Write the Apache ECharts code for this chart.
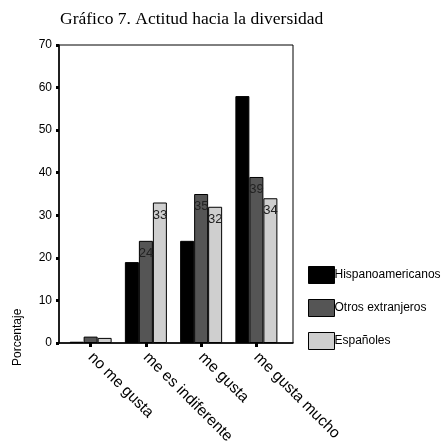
<!DOCTYPE html>
<html>
<head>
<meta charset="utf-8">
<script src="https://cdn.jsdelivr.net/npm/echarts@6/dist/echarts.min.js"></script>
<style>
  html, body { margin: 0; padding: 0; background: #fff; }
  #chart { width: 445px; height: 444px; }
</style>
</head>
<body>
<div id="chart"></div>
<script>
// datos
const categorias = ["no me gusta", "me es indiferente", "me gusta", "me gusta mucho"];
const hispanoamericanos = [0.3, 19, 24, 58];
const otrosExtranjeros = [1.5, 24, 35, 39];
const espanoles = [1.2, 33, 32, 34];
const ticksY = [0, 10, 20, 30, 40, 50, 60, 70];

const myEcharts = echarts.init(document.getElementById("chart"));

const etiqueta = {
  show: true,
  position: "insideTop",
  distance: 6,
  color: "#222",
  fontFamily: "Liberation Sans",
  fontSize: 13,
  formatter: (p) => (p.value > 5 ? String(p.value) : ""),
};

const serie = (name, data, color, label) => ({
  name: name,
  type: "bar",
  xAxisIndex: 1,
  yAxisIndex: 1,
  data: data,
  barWidth: 14,
  barGap: "0%",
  itemStyle: {
    color: color,
    borderColor: "#000",
    borderWidth: 1,
  },
  label: label ? etiqueta : { show: false },
});

const option = {
  animation: false,
  backgroundColor: "#fff",
  title: {
    text: "Gráfico 7. Actitud hacia la diversidad",
    left: 55,
    top: 5,
    textStyle: {
      fontFamily: "Liberation Serif",
      fontWeight: "normal",
      fontSize: 17.5,
      color: "#000",
    },
  },
  legend: {
    orient: "vertical",
    left: 303,
    top: 261,
    itemWidth: 26,
    itemHeight: 17,
    itemGap: 15,
    icon: "rect",
    textStyle: {
      fontFamily: "Liberation Sans",
      fontSize: 12,
      color: "#000",
      padding: [0, 0, 0, -5],
    },
    itemStyle: { borderColor: "#000", borderWidth: 1 },
    data: ["Hispanoamericanos", "Otros extranjeros", "Españoles"],
  },
  grid: [
    // marco y eje Y
    { left: 59, top: 45, width: 234, height: 298, outerBoundsMode: "none", show: true, borderColor: "#000", borderWidth: 1 },
    // zona de las barras (el 3D deja un margen a la derecha)
    { left: 63, top: 45, width: 221, height: 298, outerBoundsMode: "none" },
  ],
  graphic: [
    {
      type: "text",
      x: 12,
      y: 366,
      rotation: Math.PI / 2,
      style: {
        text: "Porcentaje",
        fontFamily: "Liberation Sans",
        fontSize: 12,
        fill: "#000",
      },
    },
  ],
  xAxis: [
    {
      gridIndex: 0,
      type: "category",
      data: categorias,
      axisLine: { lineStyle: { color: "#000", width: 1.5 } },
      axisTick: { show: false },
      axisLabel: { show: false },
    },
    {
      gridIndex: 1,
      type: "category",
      data: categorias,
      axisLine: { show: false },
      axisTick: { show: true, alignWithLabel: true, length: 4, lineStyle: { color: "#000", width: 3 } },
      axisLabel: {
        rotate: -45,
        margin: 12,
        color: "#000",
        fontFamily: "Liberation Sans",
        fontSize: 15.5,
      },
    },
  ],
  yAxis: [
    {
      gridIndex: 0,
      type: "value",
      min: 0,
      max: 70,
      interval: 10,
      axisLine: { show: true, lineStyle: { color: "#000", width: 1.5 } },
      axisTick: { show: true, length: 3, lineStyle: { color: "#000", width: 3 } },
      splitLine: { show: false },
      axisLabel: {
        color: "#000",
        fontFamily: "Liberation Sans",
        fontSize: 12,
        margin: 7,
        formatter: (v) => (ticksY.includes(v) ? String(v) : ""),
      },
    },
    {
      gridIndex: 1,
      type: "value",
      min: 0,
      max: 70,
      interval: 10,
      show: false,
      splitLine: { show: false },
    },
  ],
  series: [
    serie("Hispanoamericanos", hispanoamericanos, "#000", false),
    serie("Otros extranjeros", otrosExtranjeros, "#555", true),
    serie("Españoles", espanoles, "#cfcfcf", true),
  ],
};

myEcharts.setOption(option);
window.addEventListener("resize", () => {
  myEcharts.resize();
});
</script>
</body>
</html>
